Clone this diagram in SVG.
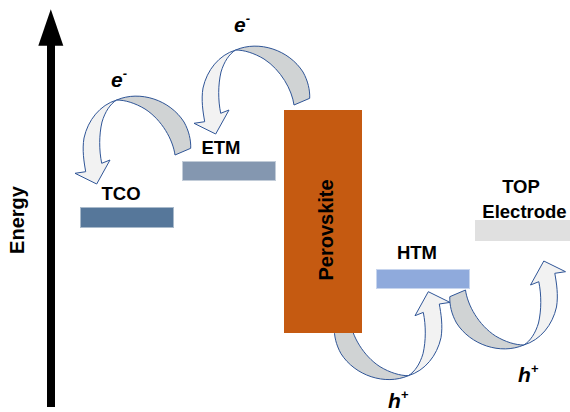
<svg xmlns="http://www.w3.org/2000/svg" xmlns:xlink="http://www.w3.org/1999/xlink" width="570" height="412" viewBox="0 0 570 412">
<style>
.lbl{font-family:"Liberation Sans",Arial,sans-serif;font-weight:bold;font-size:18.5px;fill:#000;text-anchor:middle}
.car{font-family:"Liberation Sans",Arial,sans-serif;font-weight:bold;font-style:italic;font-size:21px;fill:#000}
.sup{font-size:13px}
.back{fill:#d0d3d4;stroke:#2f5597;stroke-width:1;stroke-linejoin:round}
.front{fill:#f2f2f2;stroke:#2f5597;stroke-width:1;stroke-linejoin:round}
.bar{stroke-width:1}
</style>
<defs>
<g id="curl">
<path class="back" d="M116.7,100 C140,90 170,100 184,122 C189,131 191,140 190.7,148.3 L175,155 C173,140 162,120 145,109 C135,103 125,100 116.7,100 Z"/>
<path class="front" d="M116.7,100 C100,105 88,120 84,138 C82,150 84,162 85.7,171.7 L75,173.3 L96.7,184 L110,160 L101.7,163.3 C99,150 99,135 102,122 C105,112 110,104 116.7,100 Z"/>
</g>
</defs>
<rect width="570" height="412" fill="#fff"/>
<g id="energy-axis">
<rect x="47" y="44" width="8" height="363" fill="#000"/>
<polygon points="38.3,45.7 50.8,9.3 63.3,45.7" fill="#000"/>
<text class="lbl" style="font-size:20px" transform="translate(23.5,220) rotate(-90)">Energy</text>
</g>
<g id="connectors">
<use xlink:href="#curl" href="#curl"/>
<use xlink:href="#curl" href="#curl" transform="translate(119,-50)"/>
<use xlink:href="#curl" href="#curl" transform="translate(525,475.7) rotate(180)"/>
<use xlink:href="#curl" href="#curl" transform="translate(640.5,445) rotate(180)"/>
</g>
<g id="tco">
<rect class="bar" x="80.5" y="207.5" width="93" height="20" fill="#56779a" stroke="#a9bacb"/>
<text class="lbl" x="121" y="200">TCO</text>
</g>
<g id="etm">
<rect class="bar" x="182.5" y="161.5" width="93" height="19" fill="#8497b0" stroke="#c2ccd8"/>
<text class="lbl" x="221" y="154">ETM</text>
</g>
<g id="perovskite">
<rect x="284" y="110" width="78" height="223" fill="#c55a11"/>
<text class="lbl" style="font-size:20px" transform="translate(333,230) rotate(-90)">Perovskite</text>
</g>
<g id="htm">
<rect class="bar" x="376.5" y="269.5" width="93" height="19" fill="#8faadc" stroke="#c7d5ee"/>
<text class="lbl" x="417" y="259">HTM</text>
</g>
<g id="top-electrode">
<rect x="475" y="220" width="95" height="21" fill="#e0e0e0"/>
<text class="lbl" x="521" y="193">TOP</text>
<text class="lbl" x="524.5" y="218">Electrode</text>
</g>
<g id="labels">
<text class="car" x="111" y="87.3">e<tspan class="sup" dy="-9">-</tspan></text>
<text class="car" x="234" y="31.7">e<tspan class="sup" dy="-9">-</tspan></text>
<text class="car" x="388" y="408">h<tspan class="sup" dy="-9">+</tspan></text>
<text class="car" x="518" y="381.7">h<tspan class="sup" dy="-9">+</tspan></text>
</g>
</svg>
